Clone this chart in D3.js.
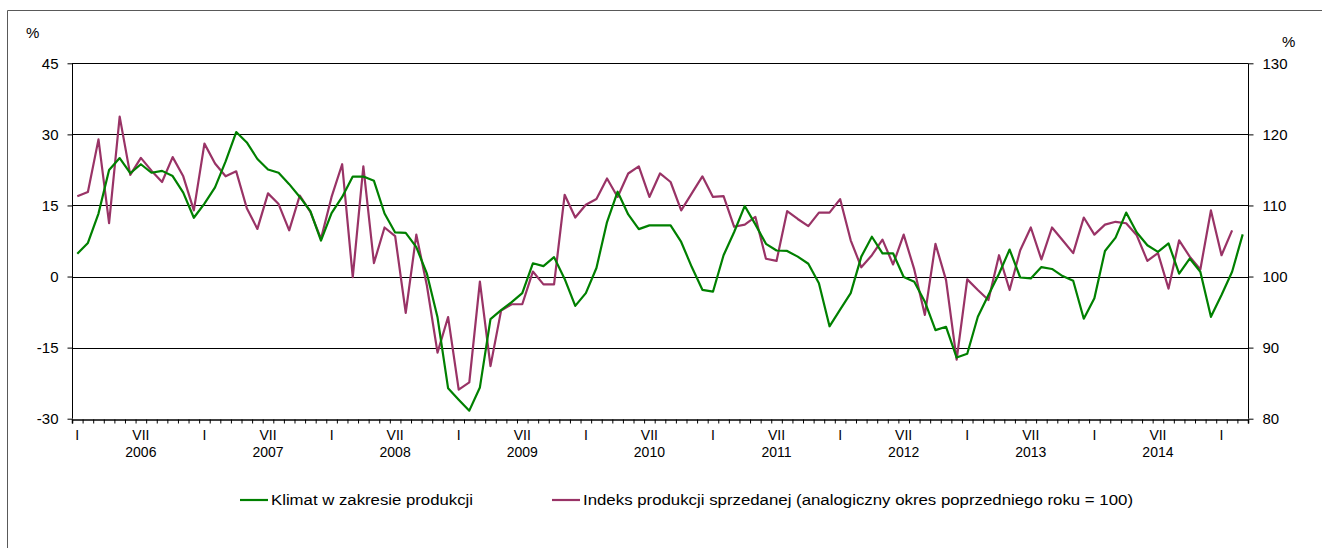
<!DOCTYPE html>
<html><head><meta charset="utf-8">
<script src="https://cdn.jsdelivr.net/npm/d3@7"></script>
<style>
html,body{margin:0;padding:0;background:#fff;}
svg{display:block;font-family:"Liberation Sans",Arial,sans-serif;}
</style></head>
<body><svg id="chart" width="1322" height="548"></svg>
<script>
// ---- data ----
const years = [2006, 2007, 2008, 2009, 2010, 2011, 2012, 2013, 2014, 2015];
const startYear = 2006, monthCount = 111; // Jan 2006 .. Mar 2015
const leftTicks = [-30, -15, 0, 15, 30, 45];
const rightTicks = [80, 90, 100, 110, 120, 130];
const seriesNames = ["Klimat w zakresie produkcji",
  "Indeks produkcji sprzedanej (analogiczny okres poprzedniego roku = 100)"];
// Klimat w zakresie produkcji (left axis, %)
const klimat = [
  4.8, 7.1, 13.3, 22.5, 25.0, 21.8, 23.7, 21.9, 22.3, 21.2, 17.7, 12.4,
  15.4, 18.8, 24.3, 30.5, 28.3, 24.8, 22.6, 21.9, 19.5, 16.8, 13.8, 7.6,
  13.4, 16.8, 21.1, 21.1, 20.2, 13.3, 9.3, 9.2, 6.2, 0.6, -8.6, -23.6,
  -26.0, -28.3, -23.4, -9.0, -7.1, -5.4, -3.5, 2.8, 2.2, 4.1, -0.5, -6.2,
  -3.5, 1.8, 11.5, 17.9, 13.1, 10.0, 10.8, 10.8, 10.8, 7.3, 2.0, -2.8,
  -3.2, 4.5, 9.4, 14.9, 11.0, 6.9, 5.5, 5.4, 4.2, 2.7, -1.4, -10.5,
  -7.0, -3.5, 4.2, 8.4, 4.9, 4.9, -0.1, -1.1, -5.3, -11.3, -10.6, -17.1,
  -16.3, -8.5, -3.9, 0.6, 5.7, -0.2, -0.4, 2.0, 1.6, 0.1, -0.9, -8.9,
  -4.6, 5.4, 8.2, 13.5, 9.3, 6.6, 5.2, 7.0, 0.6, 3.8, 1.0, -8.5,
  -3.9, 1.0, 8.9
];
// Indeks produkcji sprzedanej (right axis, previous year = 100)
const indeks = [
  111.3, 111.9, 119.3, 107.5, 122.5, 114.3, 116.7, 114.9, 113.3, 116.8, 114.1, 109.3,
  118.7, 115.9, 114.1, 114.8, 109.6, 106.7, 111.7, 110.2, 106.5, 111.4, 109.1, 105.3,
  111.2, 115.8, 99.9, 115.5, 101.9, 106.9, 105.7, 94.9, 105.9, 98.7, 89.3, 94.3,
  84.1, 85.1, 99.3, 87.4, 95.2, 96.1, 96.1, 100.7, 98.9, 98.9, 111.5, 108.3,
  110.1, 110.9, 113.8, 111.2, 114.5, 115.5, 111.2, 114.5, 113.3, 109.3, 111.7, 114.1,
  111.2, 111.3, 107.0, 107.3, 108.4, 102.5, 102.2, 109.2, 108.1, 107.1, 109.0, 109.0,
  110.9, 105.1, 101.3, 103.0, 105.2, 101.7, 105.9, 101.0, 94.6, 104.6, 99.5, 88.3,
  99.6, 98.1, 96.7, 103.0, 98.1, 103.7, 106.9, 102.4, 106.9, 105.1, 103.3, 108.3,
  105.9, 107.3, 107.7, 107.5, 105.8, 102.2, 103.3, 98.3, 105.1, 102.8, 101.0, 109.3,
  103.0, 106.5
];
const colors = ["#008000", "#993366"];

// ---- layout ----
const svg = d3.select("#chart");
const L = 72, R = 1248, T = 63.3, B = 418.7;
const idx = d3.range(monthCount);
const x = d3.scaleBand().domain(idx).range([L, R]).padding(0);
const xEdge = d3.scaleLinear().domain([0, monthCount]).range([L, R]);
const yL = d3.scaleLinear().domain([-30, 45]).range([B, T]);
const yR = d3.scaleLinear().domain([80, 130]).range([B, T]);
const cx = i => x(i) + x.bandwidth() / 2;
const FONT = '"Liberation Sans",Arial,sans-serif';

// outer frame
svg.append("path").attr("d", "M7.5,548 V10.5 H1322")
  .attr("fill", "none").attr("stroke", "#595959").attr("stroke-width", 1);

// gridlines
svg.append("g").selectAll("line").data(leftTicks.filter(d => d > -30)).join("line")
  .attr("x1", L).attr("x2", R)
  .attr("y1", d => Math.round(yL(d)) + 0.5).attr("y2", d => Math.round(yL(d)) + 0.5)
  .attr("stroke", "#000").attr("stroke-width", 1);

// left axis
const gL = svg.append("g").attr("transform", `translate(${L + 0.5},0)`)
  .call(d3.axisLeft(yL).tickValues(leftTicks).tickSize(5).tickPadding(9).tickFormat(d => String(d)));
// right axis
const gR = svg.append("g").attr("transform", `translate(${R + 0.5},0)`)
  .call(d3.axisRight(yR).tickValues(rightTicks).tickSize(5).tickPadding(9).tickFormat(d => String(d)));
[gL, gR].forEach(g => {
  g.select(".domain").attr("stroke", "#000").attr("d", `M0,${T} V${B}`);
  g.selectAll(".tick line").attr("stroke", "#000");
  g.selectAll("text").attr("font-size", 15).attr("fill", "#000").attr("font-family", FONT);
});

// bottom axis line and ticks (between months)
const gB = svg.append("g").attr("transform", `translate(0,${Math.round(B) + 0.5})`)
  .call(d3.axisBottom(xEdge).tickValues(d3.range(monthCount + 1)).tickSize(4).tickFormat(""));
gB.select(".domain").attr("stroke", "#000").attr("stroke-width", 1.5);
gB.selectAll(".tick line").attr("stroke", "#000");

// month labels
const monthLab = idx.map(i => (i % 12 === 0 ? "I" : i % 12 === 6 ? "VII" : ""));
const gM = svg.append("g").attr("transform", `translate(0,${Math.round(B)})`)
  .call(d3.axisBottom(x).tickValues(idx.filter(i => monthLab[i] !== "")).tickSize(0).tickPadding(11)
    .tickFormat(i => monthLab[i]));
gM.select(".domain").remove();
gM.selectAll("text").attr("font-size", 14).attr("fill", "#000").attr("font-family", FONT);

// year labels under July
svg.append("g").selectAll("text").data(years.filter(y => (y - startYear) * 12 + 6 < monthCount)).join("text")
  .attr("x", y => cx((y - startYear) * 12 + 6)).attr("y", 457)
  .attr("text-anchor", "middle").attr("font-size", 14).attr("fill", "#000")
  .text(y => y);

// percent unit labels
svg.append("text").attr("x", 26).attr("y", 38).attr("font-size", 15).text("%");
svg.append("text").attr("x", 1282).attr("y", 47).attr("font-size", 15).text("%");

// lines
const lineL = d3.line().x((d, i) => cx(i)).y(d => yL(d));
const lineR = d3.line().x((d, i) => cx(i)).y(d => yR(d));
svg.append("path").datum(indeks).attr("d", lineR).attr("fill", "none")
  .attr("stroke", colors[1]).attr("stroke-width", 2.2).attr("stroke-linejoin", "round");
svg.append("path").datum(klimat).attr("d", lineL).attr("fill", "none")
  .attr("stroke", colors[0]).attr("stroke-width", 2.2).attr("stroke-linejoin", "round");

// legend
const leg = [
  {x: 240, tx: 271, w: 202},
  {x: 552, tx: 583, w: 550}
];
const gLeg = svg.append("g");
leg.forEach((o, k) => {
  gLeg.append("line").attr("x1", o.x).attr("x2", o.x + 28).attr("y1", 500).attr("y2", 500)
    .attr("stroke", colors[k]).attr("stroke-width", 2.2);
  gLeg.append("text").attr("x", o.tx).attr("y", 505).attr("font-size", 14)
    .attr("textLength", o.w).attr("lengthAdjust", "spacingAndGlyphs").text(seriesNames[k]);
});
</script></body></html>
